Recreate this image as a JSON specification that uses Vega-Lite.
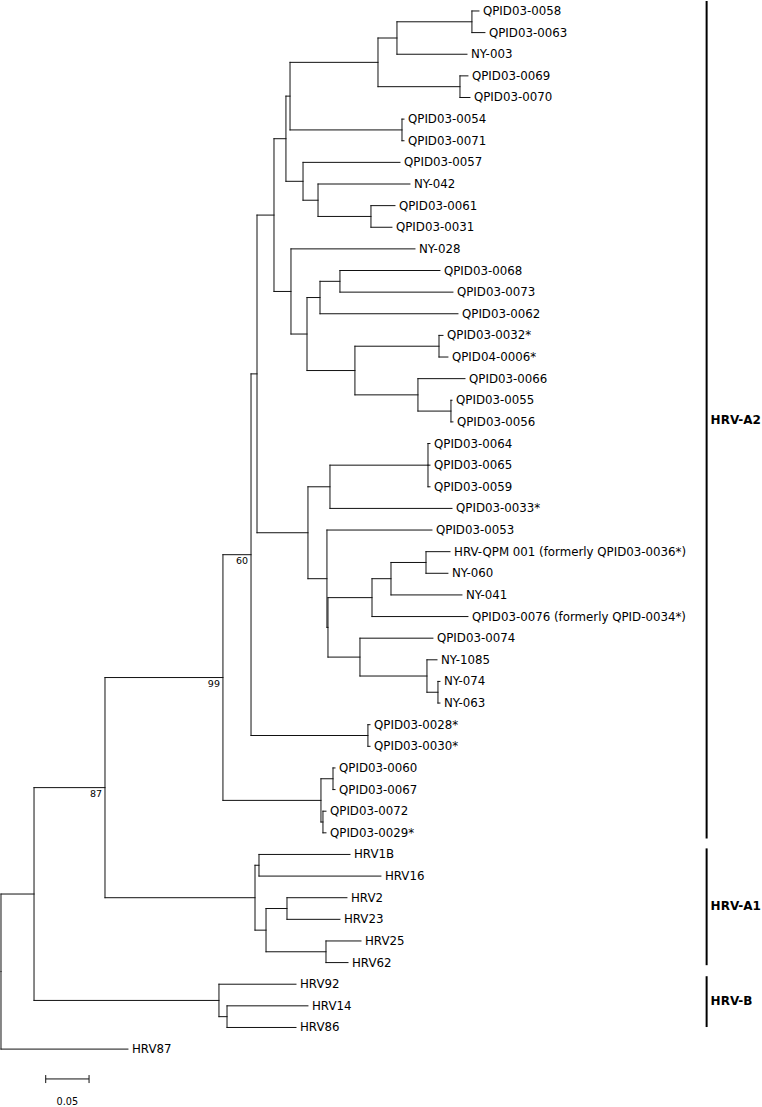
{
  "$schema": "https://vega.github.io/schema/vega-lite/v6.json",
  "width": 762,
  "height": 1107,
  "autosize": {"type": "fit", "contains": "padding"},
  "padding": 0,
  "background": "white",
  "config": {"view": {"stroke": null}},
  "datasets": {
    "nodes": [
      {"id": "root", "x0": 0, "x": 0, "y": 44.415, "ymin": 40.83, "ymax": 48},
      {"id": "R2", "x0": 0, "x": 0.0381, "y": 40.83, "ymin": 35.91, "ymax": 45.75},
      {"id": "N87", "x0": 0.0381, "x": 0.12, "y": 35.91, "ymin": 30.82, "ymax": 41, "support": "87"},
      {"id": "N99", "x0": 0.12, "x": 0.2561, "y": 30.82, "ymin": 25.14, "ymax": 36.5, "support": "99"},
      {"id": "N60", "x0": 0.2561, "x": 0.2885, "y": 25.14, "ymin": 16.78, "ymax": 33.5, "support": "60"},
      {"id": "N13", "x0": 0.2885, "x": 0.2954, "y": 16.78, "ymin": 9.4375, "ymax": 24.125},
      {"id": "N11", "x0": 0.2954, "x": 0.315, "y": 9.4375, "ymin": 5.906, "ymax": 12.969},
      {"id": "N7", "x0": 0.315, "x": 0.3288, "y": 5.906, "ymin": 3.9375, "ymax": 7.875},
      {"id": "N5", "x0": 0.3288, "x": 0.3335, "y": 3.9375, "ymin": 2.375, "ymax": 5.5},
      {"id": "N3", "x0": 0.3335, "x": 0.435, "y": 2.375, "ymin": 1.25, "ymax": 3.5},
      {"id": "N2", "x0": 0.435, "x": 0.4569, "y": 1.25, "ymin": 0.5, "ymax": 2},
      {"id": "N1", "x0": 0.4569, "x": 0.5434, "y": 0.5, "ymin": 0, "ymax": 1},
      {"id": "N4", "x0": 0.435, "x": 0.5296, "y": 3.5, "ymin": 3, "ymax": 4},
      {"id": "N6", "x0": 0.3335, "x": 0.4627, "y": 5.5, "ymin": 5, "ymax": 6},
      {"id": "N8", "x0": 0.3288, "x": 0.3485, "y": 7.875, "ymin": 7, "ymax": 8.75},
      {"id": "N9", "x0": 0.3485, "x": 0.3658, "y": 8.75, "ymin": 8, "ymax": 9.5},
      {"id": "N10", "x0": 0.3658, "x": 0.4269, "y": 9.5, "ymin": 9, "ymax": 10},
      {"id": "N12", "x0": 0.315, "x": 0.3346, "y": 12.969, "ymin": 11, "ymax": 14.9375},
      {"id": "N14", "x0": 0.3346, "x": 0.3531, "y": 14.9375, "ymin": 13.25, "ymax": 16.625},
      {"id": "N15", "x0": 0.3531, "x": 0.3681, "y": 13.25, "ymin": 12.5, "ymax": 14},
      {"id": "N16", "x0": 0.3681, "x": 0.3911, "y": 12.5, "ymin": 12, "ymax": 13},
      {"id": "N17", "x0": 0.3531, "x": 0.4084, "y": 16.625, "ymin": 15.5, "ymax": 17.75},
      {"id": "N18", "x0": 0.4084, "x": 0.5054, "y": 15.5, "ymin": 15, "ymax": 16},
      {"id": "N19", "x0": 0.4084, "x": 0.4811, "y": 17.75, "ymin": 17, "ymax": 18.5},
      {"id": "N20", "x0": 0.4811, "x": 0.5192, "y": 18.5, "ymin": 18, "ymax": 19},
      {"id": "N21", "x0": 0.2954, "x": 0.3542, "y": 24.125, "ymin": 22, "ymax": 26.25},
      {"id": "N23", "x0": 0.3542, "x": 0.3796, "y": 22, "ymin": 21, "ymax": 23},
      {"id": "N22", "x0": 0.3796, "x": 0.4927, "y": 21, "ymin": 20, "ymax": 22},
      {"id": "N24b", "x0": 0.3542, "x": 0.3761, "y": 26.25, "ymin": 24, "ymax": 28.5},
      {"id": "N24a", "x0": 0.3761, "x": 0.3773, "y": 28.5, "ymin": 27.125, "ymax": 29.875},
      {"id": "N25", "x0": 0.3773, "x": 0.4281, "y": 27.125, "ymin": 26.25, "ymax": 28},
      {"id": "N27", "x0": 0.4281, "x": 0.45, "y": 26.25, "ymin": 25.5, "ymax": 27},
      {"id": "N28", "x0": 0.45, "x": 0.4904, "y": 25.5, "ymin": 25, "ymax": 26},
      {"id": "N26", "x0": 0.3773, "x": 0.4142, "y": 29.875, "ymin": 29, "ymax": 30.75},
      {"id": "N29", "x0": 0.4142, "x": 0.4915, "y": 30.75, "ymin": 30, "ymax": 31.5},
      {"id": "N30", "x0": 0.4915, "x": 0.5042, "y": 31.5, "ymin": 31, "ymax": 32},
      {"id": "N31", "x0": 0.2885, "x": 0.4234, "y": 33.5, "ymin": 33, "ymax": 34},
      {"id": "N32", "x0": 0.2561, "x": 0.3692, "y": 36.5, "ymin": 35.5, "ymax": 37.5},
      {"id": "N33", "x0": 0.3692, "x": 0.3831, "y": 35.5, "ymin": 35, "ymax": 36},
      {"id": "N34", "x0": 0.3692, "x": 0.3715, "y": 37.5, "ymin": 37, "ymax": 38},
      {"id": "A1", "x0": 0.12, "x": 0.2931, "y": 41, "ymin": 39.5, "ymax": 42.5},
      {"id": "C1", "x0": 0.2931, "x": 0.2977, "y": 39.5, "ymin": 39, "ymax": 40},
      {"id": "C4", "x0": 0.2931, "x": 0.3058, "y": 42.5, "ymin": 41.5, "ymax": 43.5},
      {"id": "C2", "x0": 0.3058, "x": 0.33, "y": 41.5, "ymin": 41, "ymax": 42},
      {"id": "C3", "x0": 0.3058, "x": 0.375, "y": 43.5, "ymin": 43, "ymax": 44},
      {"id": "B", "x0": 0.0381, "x": 0.2515, "y": 45.75, "ymin": 45, "ymax": 46.5},
      {"id": "B1", "x0": 0.2515, "x": 0.2608, "y": 46.5, "ymin": 46, "ymax": 47}
    ],
    "leaves": [
      {"name": "QPID03-0058", "x0": 0.5434, "x": 0.5515, "y": 0},
      {"name": "QPID03-0063", "x0": 0.5434, "x": 0.5584, "y": 1},
      {"name": "NY-003", "x0": 0.4569, "x": 0.5377, "y": 2},
      {"name": "QPID03-0069", "x0": 0.5296, "x": 0.5388, "y": 3},
      {"name": "QPID03-0070", "x0": 0.5296, "x": 0.5411, "y": 4},
      {"name": "QPID03-0054", "x0": 0.4627, "x": 0.465, "y": 5},
      {"name": "QPID03-0071", "x0": 0.4627, "x": 0.465, "y": 6},
      {"name": "QPID03-0057", "x0": 0.3485, "x": 0.4604, "y": 7},
      {"name": "NY-042", "x0": 0.3658, "x": 0.4719, "y": 8},
      {"name": "QPID03-0061", "x0": 0.4269, "x": 0.4546, "y": 9},
      {"name": "QPID03-0031", "x0": 0.4269, "x": 0.4511, "y": 10},
      {"name": "NY-028", "x0": 0.3346, "x": 0.4777, "y": 11},
      {"name": "QPID03-0068", "x0": 0.3911, "x": 0.5065, "y": 12},
      {"name": "QPID03-0073", "x0": 0.3911, "x": 0.5215, "y": 13},
      {"name": "QPID03-0062", "x0": 0.3681, "x": 0.5273, "y": 14},
      {"name": "QPID03-0032*", "x0": 0.5054, "x": 0.51, "y": 15},
      {"name": "QPID04-0006*", "x0": 0.5054, "x": 0.5157, "y": 16},
      {"name": "QPID03-0066", "x0": 0.4811, "x": 0.5354, "y": 17},
      {"name": "QPID03-0055", "x0": 0.5192, "x": 0.5204, "y": 18},
      {"name": "QPID03-0056", "x0": 0.5192, "x": 0.5215, "y": 19},
      {"name": "QPID03-0064", "x0": 0.4927, "x": 0.495, "y": 20},
      {"name": "QPID03-0065", "x0": 0.4927, "x": 0.495, "y": 21},
      {"name": "QPID03-0059", "x0": 0.4927, "x": 0.495, "y": 22},
      {"name": "QPID03-0033*", "x0": 0.3796, "x": 0.5204, "y": 23},
      {"name": "QPID03-0053", "x0": 0.3761, "x": 0.4973, "y": 24},
      {"name": "HRV-QPM 001 (formerly QPID03-0036*)", "x0": 0.4904, "x": 0.5181, "y": 25},
      {"name": "NY-060", "x0": 0.4904, "x": 0.5157, "y": 26},
      {"name": "NY-041", "x0": 0.45, "x": 0.5319, "y": 27},
      {"name": "QPID03-0076 (formerly QPID-0034*)", "x0": 0.4281, "x": 0.5388, "y": 28},
      {"name": "QPID03-0074", "x0": 0.4142, "x": 0.4984, "y": 29},
      {"name": "NY-1085", "x0": 0.4915, "x": 0.5031, "y": 30},
      {"name": "NY-074", "x0": 0.5042, "x": 0.5065, "y": 31},
      {"name": "NY-063", "x0": 0.5042, "x": 0.5065, "y": 32},
      {"name": "QPID03-0028*", "x0": 0.4234, "x": 0.4258, "y": 33},
      {"name": "QPID03-0030*", "x0": 0.4234, "x": 0.4258, "y": 34},
      {"name": "QPID03-0060", "x0": 0.3831, "x": 0.3854, "y": 35},
      {"name": "QPID03-0067", "x0": 0.3831, "x": 0.3854, "y": 36},
      {"name": "QPID03-0072", "x0": 0.3715, "x": 0.375, "y": 37},
      {"name": "QPID03-0029*", "x0": 0.3715, "x": 0.375, "y": 38},
      {"name": "HRV1B", "x0": 0.2977, "x": 0.4027, "y": 39},
      {"name": "HRV16", "x0": 0.2977, "x": 0.4384, "y": 40},
      {"name": "HRV2", "x0": 0.33, "x": 0.3992, "y": 41},
      {"name": "HRV23", "x0": 0.33, "x": 0.3911, "y": 42},
      {"name": "HRV25", "x0": 0.375, "x": 0.4154, "y": 43},
      {"name": "HRV62", "x0": 0.375, "x": 0.4004, "y": 44},
      {"name": "HRV92", "x0": 0.2515, "x": 0.3404, "y": 45},
      {"name": "HRV14", "x0": 0.2608, "x": 0.3542, "y": 46},
      {"name": "HRV86", "x0": 0.2608, "x": 0.3404, "y": 47},
      {"name": "HRV87", "x0": 0, "x": 0.1465, "y": 48}
    ],
    "clades": [
      {"name": "HRV-A2", "x": 0.8142, "y": -0.46, "y2": 38.26, "ym": 18.92},
      {"name": "HRV-A1", "x": 0.8142, "y": 38.72, "y2": 44.12, "ym": 41.4},
      {"name": "HRV-B", "x": 0.8142, "y": 44.63, "y2": 46.98, "ym": 45.78}
    ],
    "scalebar": [
      {"label": "0.05", "x": 0.0516, "x2": 0.1016, "xm": 0.0766, "y": 49.38, "ytop": 49.2, "ybot": 49.57, "ylab": 50.45}
    ]
  },
  "layer": [
    {
      "data": {"name": "nodes"},
      "mark": {"type": "rule", "color": "#111", "strokeWidth": 1, "strokeCap": "square"},
      "encoding": {
        "x": {"field": "x0", "type": "quantitative", "scale": {"domain": [-0.00115, 0.8781], "nice": false, "zero": false}, "axis": null},
        "x2": {"field": "x"},
        "y": {"field": "y", "type": "quantitative", "scale": {"domain": [-0.4615, 50.631], "nice": false, "zero": false, "reverse": true}, "axis": null}
      }
    },
    {
      "data": {"name": "nodes"},
      "mark": {"type": "rule", "color": "#111", "strokeWidth": 1, "strokeCap": "square"},
      "encoding": {
        "x": {"field": "x", "type": "quantitative"},
        "y": {"field": "ymin", "type": "quantitative"},
        "y2": {"field": "ymax"}
      }
    },
    {
      "data": {"name": "leaves"},
      "mark": {"type": "rule", "color": "#111", "strokeWidth": 1, "strokeCap": "square"},
      "encoding": {
        "x": {"field": "x0", "type": "quantitative"},
        "x2": {"field": "x"},
        "y": {"field": "y", "type": "quantitative"}
      }
    },
    {
      "data": {"name": "leaves"},
      "mark": {"type": "text", "align": "left", "baseline": "middle", "dx": 4, "font": "DejaVu Sans", "fontSize": 11.8, "color": "#000"},
      "encoding": {
        "x": {"field": "x", "type": "quantitative"},
        "y": {"field": "y", "type": "quantitative"},
        "text": {"field": "name"}
      }
    },
    {
      "data": {"name": "nodes"},
      "transform": [{"filter": "datum.support != null"}],
      "mark": {"type": "text", "align": "right", "baseline": "middle", "dx": -3, "dy": 6, "font": "DejaVu Sans", "fontSize": 9.5, "color": "#000"},
      "encoding": {
        "x": {"field": "x", "type": "quantitative"},
        "y": {"field": "y", "type": "quantitative"},
        "text": {"field": "support"}
      }
    },
    {
      "data": {"name": "clades"},
      "mark": {"type": "rule", "color": "#000", "strokeWidth": 2},
      "encoding": {
        "x": {"field": "x", "type": "quantitative"},
        "y": {"field": "y", "type": "quantitative"},
        "y2": {"field": "y2"}
      }
    },
    {
      "data": {"name": "clades"},
      "mark": {"type": "text", "align": "left", "baseline": "middle", "dx": 4, "font": "DejaVu Sans", "fontSize": 12, "fontWeight": "bold", "color": "#000"},
      "encoding": {
        "x": {"field": "x", "type": "quantitative"},
        "y": {"field": "ym", "type": "quantitative"},
        "text": {"field": "name"}
      }
    },
    {
      "data": {"name": "scalebar"},
      "mark": {"type": "rule", "color": "#111", "strokeWidth": 1},
      "encoding": {
        "x": {"field": "x", "type": "quantitative"},
        "x2": {"field": "x2"},
        "y": {"field": "y", "type": "quantitative"}
      }
    },
    {
      "data": {"name": "scalebar"},
      "mark": {"type": "rule", "color": "#111", "strokeWidth": 1},
      "encoding": {
        "x": {"field": "x", "type": "quantitative"},
        "y": {"field": "ytop", "type": "quantitative"},
        "y2": {"field": "ybot"}
      }
    },
    {
      "data": {"name": "scalebar"},
      "mark": {"type": "rule", "color": "#111", "strokeWidth": 1},
      "encoding": {
        "x": {"field": "x2", "type": "quantitative"},
        "y": {"field": "ytop", "type": "quantitative"},
        "y2": {"field": "ybot"}
      }
    },
    {
      "data": {"name": "scalebar"},
      "mark": {"type": "text", "align": "center", "baseline": "middle", "font": "DejaVu Sans", "fontSize": 9.7, "color": "#000"},
      "encoding": {
        "x": {"field": "xm", "type": "quantitative"},
        "y": {"field": "ylab", "type": "quantitative"},
        "text": {"field": "label"}
      }
    }
  ]
}
